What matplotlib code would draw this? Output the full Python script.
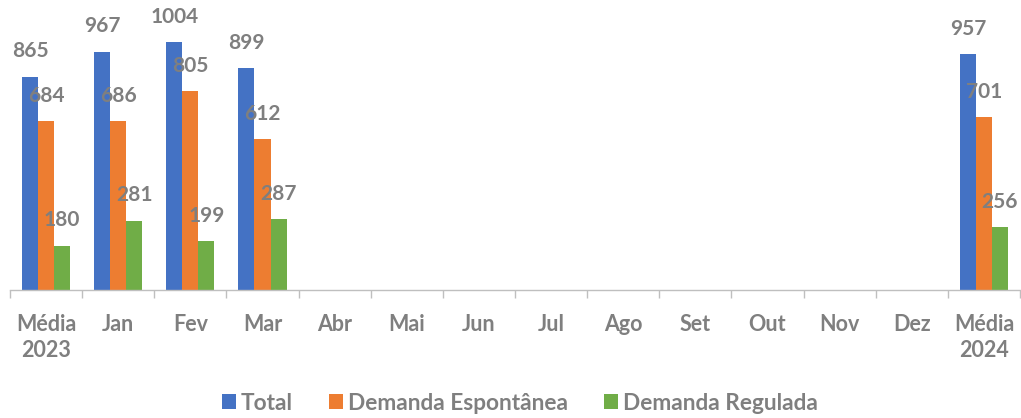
import numpy as np
import matplotlib.pyplot as plt
from matplotlib.patches import Patch

plt.rcParams['font.family'] = ['Lato', 'DejaVu Sans']

categories = ['Média\n2023', 'Jan', 'Fev', 'Mar', 'Abr', 'Mai', 'Jun', 'Jul',
              'Ago', 'Set', 'Out', 'Nov', 'Dez', 'Média\n2024']
total = [865, 967, 1004, 899, None, None, None, None, None, None, None, None, None, 957]
espontanea = [684, 686, 805, 612, None, None, None, None, None, None, None, None, None, 701]
regulada = [180, 281, 199, 287, None, None, None, None, None, None, None, None, None, 256]

series = [
    ('Total', total, '#4472C4'),
    ('Demanda Espontânea', espontanea, '#ED7D31'),
    ('Demanda Regulada', regulada, '#70AD47'),
]

label_grey = '#7F7F7F'
axis_grey = '#BFBFBF'

fig = plt.figure(figsize=(10.21, 4.18), dpi=100)
ax = fig.add_axes([10 / 1021, 128 / 418, 1010 / 1021, 290 / 418])

x = np.arange(len(categories))
width = 0.222
for i, (name, vals, color) in enumerate(series):
    offset = (i - 1) * width
    for xi, v in zip(x, vals):
        if v is None:
            continue
        ax.bar(xi + offset, v, width=width, color=color, linewidth=0)
        ax.annotate(str(v), (xi + offset, v), xytext=(0, 11), textcoords='offset points',
                    ha='center', va='bottom', fontsize=15, fontweight='bold',
                    color=label_grey)

ax.set_xlim(-0.5, len(categories) - 0.5)
ax.set_ylim(0, 1176)

for side in ['left', 'right', 'top']:
    ax.spines[side].set_visible(False)
ax.spines['bottom'].set_color(axis_grey)
ax.spines['bottom'].set_linewidth(1)
ax.set_yticks([])

ax.set_xticks(x)
ax.set_xticklabels(categories, fontsize=15.5, fontweight='bold', color=label_grey,
                   linespacing=1.3)
ax.tick_params(axis='x', which='major', length=0, pad=17)
ax.set_xticks(np.arange(-0.5, len(categories), 1), minor=True)
ax.tick_params(axis='x', which='minor', length=6, color=axis_grey, width=1)

handles = [Patch(facecolor=c, edgecolor='none', label=n) for n, _, c in series]
leg = fig.legend(handles=handles, loc='center', bbox_to_anchor=(520 / 1021, 1 - 403 / 418),
                 ncol=3, frameon=False, fontsize=16.3, handlelength=0.62, handleheight=0.62,
                 handletextpad=0.22, columnspacing=1.6)
for t in leg.get_texts():
    t.set_color(label_grey)
    t.set_fontweight('bold')

fig.savefig('out.png', dpi=100)
